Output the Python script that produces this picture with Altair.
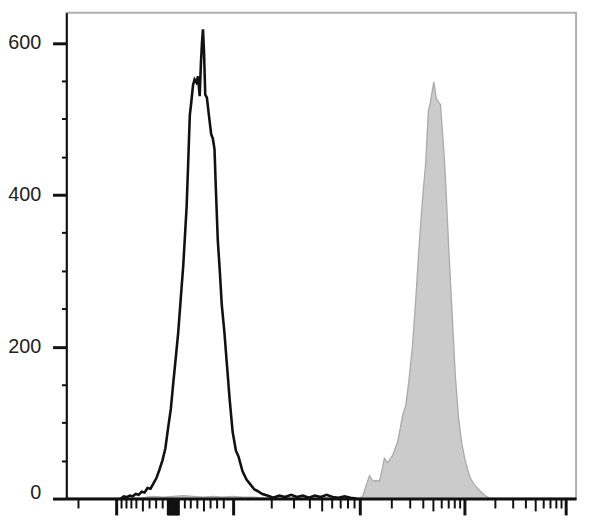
import math
import altair as alt
import pandas as pd

# ---------------- data (x in display channels 0-1024, y = cell count) -------------
black_ch = [109.4, 115.3, 121.3, 127.3, 133.2, 139.2, 145.2, 151.1, 157.1, 163.0, 169.0,
            175.0, 180.9, 186.9, 192.9, 198.8, 204.8, 209.8, 214.7, 219.7, 224.7, 229.6,
            234.6, 238.6, 241.6, 244.6, 248.0, 250.6, 254.5, 257.5, 261.1, 264.4, 267.8,
            270.4, 272.4, 274.4, 276.4, 279.0, 282.3, 286.3, 290.9, 294.3, 297.6, 300.2,
            304.2, 308.2, 312.2, 317.5, 322.1, 328.1, 334.0, 340.6, 346.0, 353.9, 361.9,
            370.4, 377.8, 383.8, 393.7, 403.6, 415.6, 427.5, 439.4, 451.4, 463.3, 475.2,
            487.1, 499.1, 511.0, 522.9, 534.9, 546.8, 558.7, 570.7, 582.6]
black_count = [0, 3, 2, 4, 3, 6, 5, 9, 8, 14, 13,
               20, 27, 38, 50, 66, 95, 118, 152, 185, 219, 262,
               305, 350, 385, 440, 505, 520, 545, 552, 548, 556, 530,
               575, 600, 618, 590, 532, 528, 505, 480, 474, 460, 410,
               340, 300, 255, 219, 180, 130, 88, 63, 55, 36, 25,
               18, 12, 10, 6, 4, 1, 4, 2, 5, 2, 4,
               1, 4, 2, 5, 2, 1, 3, 1, 0]

gray_ch = [151.1, 161.1, 175.0, 194.9, 214.7, 234.6, 254.5, 274.4, 294.3, 314.2, 334.0,
           353.9, 373.8, 391.7, 403.6, 590.5, 595.9, 602.5, 609.0, 615.8, 622.4, 628.9,
           634.3, 638.9, 645.6, 650.2, 655.6, 660.1, 665.5, 670.1, 675.5, 682.0, 688.6,
           695.3, 701.9, 708.5, 715.3, 721.8, 727.2, 730.8, 733.8, 738.3, 743.1, 747.7,
           751.6, 755.0, 758.6, 761.5, 768.1, 774.9, 781.4, 788.0, 794.8, 801.3, 811.3,
           821.2, 831.2, 841.1, 851.0]
gray_count = [0, 2, 3, 2, 3, 4, 3, 2, 3, 2, 3,
              2, 2, 1, 0, 0, 4, 18, 30, 23, 24, 23,
              38, 53, 47, 52, 57, 65, 75, 90, 110, 123, 158,
              201, 262, 331, 393, 441, 510, 520, 532, 549, 527, 522,
              519, 488, 455, 423, 331, 245, 162, 106, 71, 50, 27,
              17, 10, 4, 0]

# ---------------- axis ticks -------------
y_ticks = list(range(0, 601, 50))

x_major_ticks = [101.0, 336.0, 590.5, 800.7, 1004.1]
x_block_ticks = [204.8, 207.8, 210.8, 213.8, 216.8, 219.8, 222.8, 225.0]
x_mid_lin = [153.7, 276.4]
x_minor_lin = [24.3, 110.8, 120.7, 130.6, 140.6, 167.0, 180.3, 193.5,
               238.0, 249.9, 263.1, 289.7, 302.8, 316.2]
decade_start = [336.0, 590.5, 800.7]
decade_len = [254.5, 210.2, 203.4]

x_mid_log, x_minor_log = [], []
for s, L in zip(decade_start, decade_len):
    for k in range(2, 10):
        v = round(s + L * math.log10(k), 1)
        (x_mid_log if k == 5 else x_minor_log).append(v)

x_long = x_major_ticks + x_block_ticks
x_mid = x_mid_lin + x_mid_log
x_minor = x_minor_lin + x_minor_log

black = pd.DataFrame({"ch": black_ch, "count": black_count})
gray = pd.DataFrame({"ch": gray_ch, "count": gray_count})

W, H = 515, 491
x_scale = alt.Scale(domain=[0, 1024], nice=False, zero=False)
y_scale = alt.Scale(domain=[0, 640], nice=False)

x_axis = alt.Axis(
    ticks=False, labels=False, title=None, grid=False,
    domainColor="#111", domainWidth=3, zindex=2,
)
y_axis = alt.Axis(
    values=y_ticks, title=None, grid=False,
    labelExpr="datum.value % 200 == 0 ? datum.label : ''",
    labelFont="Liberation Sans", labelFontSize=20, labelColor="#222",
    labelPadding=12, labelFlush=True, labelFlushOffset=4,
    domainColor="#111", domainWidth=2, tickColor="#111",
    tickSize={"condition": {"test": "datum.value % 200 == 0", "value": 14}, "value": 5},
    tickWidth={"condition": {"test": "datum.value % 200 == 0", "value": 3}, "value": 2},
    zindex=2,
)

gray_area = alt.Chart(gray).mark_area(color="#cbcbcb", opacity=1).encode(
    x=alt.X("ch:Q", scale=x_scale, axis=x_axis),
    y=alt.Y("count:Q", scale=y_scale, axis=y_axis),
)
gray_line = alt.Chart(gray).mark_line(color="#aaaaaa", strokeWidth=1.3).encode(
    x="ch:Q", y="count:Q"
)
black_line = alt.Chart(black).mark_line(color="#111111", strokeWidth=2.6).encode(
    x="ch:Q", y="count:Q"
)


def tick_layer(vals, length, width):
    df = pd.DataFrame({"ch": vals})
    return alt.Chart(df).mark_rule(color="#111111", strokeWidth=width, strokeCap="butt").encode(
        x=alt.X("ch:Q"),
        y=alt.value(H),
        y2=alt.value(H + length),
    )


chart = alt.layer(
    gray_area, gray_line, black_line,
    tick_layer(x_minor, 10, 2),
    tick_layer(x_mid, 13, 2),
    tick_layer(x_long, 17, 3),
).properties(
    width=W, height=H,
    padding={"left": 59, "top": 2, "right": 6, "bottom": 24},
    autosize=alt.AutoSizeParams(type="none"),
).configure_view(stroke="#b0b0b0", strokeWidth=2)

chart.save("out.html", embed_options={"renderer": "svg", "actions": False})
